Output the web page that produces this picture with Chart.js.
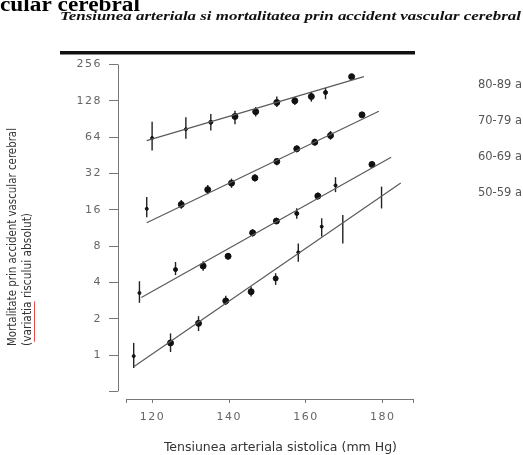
<!DOCTYPE html>
<html>
<head>
<meta charset="utf-8">
<script src="https://cdn.jsdelivr.net/npm/chart.js@4.4.1/dist/chart.umd.min.js"></script>
<style>
    body { margin: 0; background: #fff; }
    canvas { display: block; }
</style>
</head>
<body>
<canvas id="chart" width="523" height="455"></canvas>
<script>
const ageGroups = ["80-89 a", "70-79 a", "60-69 a", "50-59 a"];

// systolic pressure (x), mortality (y) and error bar ends, per age group
const sbp80 = [119.9, 128.7, 135.2, 141.5, 146.9, 152.4, 157.1, 161.4, 165.1, 171.9];
const mort80 = [63, 74.5, 85, 95, 104, 124, 128, 139, 150, 203];
const low80 = [49.6, 62, 72.5, 82, 95, 114, 118, 126, 132, 195];
const high80 = [86, 93.5, 99.7, 106, 114, 139, 138, 152, 164, 212];

const sbp70 = [118.5, 127.5, 134.4, 140.6, 146.7, 152.4, 157.6, 162.3, 166.4, 174.6];
const mort70 = [16.3, 17.7, 23.5, 26.6, 29.4, 40.2, 51.2, 58.1, 66, 97.9];
const low70 = [13.9, 16.3, 21.5, 24.3, 27.5, 37.5, 48, 54.5, 61, 93];
const high70 = [20.4, 19.3, 25.7, 29, 31.5, 43, 54.5, 62, 72, 103];

const sbp60 = [116.6, 126.0, 133.2, 139.7, 146.1, 152.3, 157.6, 163.1, 167.7, 177.2];
const mort60 = [3.27, 5.11, 5.47, 6.59, 10.3, 12.9, 14.9, 20.8, 25.5, 38];
const low60 = [2.71, 4.6, 5.0, 6.2, 9.6, 12.2, 13.5, 19.5, 22.4, 36];
const high60 = [4.09, 5.9, 6.0, 7.0, 11, 13.7, 16.5, 22.2, 29.8, 40];

const sbp50 = [115.1, 124.7, 132.0, 139.1, 145.7, 152.1, 158.0, 164.1, 169.6, 179.7];
const mort50 = [0.98, 1.26, 1.83, 2.81, 3.35, 4.31, 7.1, 11.6, 11.1, 20.1];
const low50 = [0.78, 1.06, 1.58, 2.6, 3.05, 3.81, 5.94, 9.6, 8.4, 16.4];
const high50 = [1.26, 1.51, 2.1, 3.1, 3.7, 4.76, 8.4, 13.6, 14.5, 24.9];

// fitted lines: two end points each
const fitX80 = [118.5, 175.1], fitY80 = [59.8, 203];
const fitX70 = [118.5, 179.0], fitY70 = [12.5, 105];
const fitX60 = [117.1, 182.2], fitY60 = [3.0, 43.6];
const fitX50 = [115.1, 184.7], fitY50 = [0.80, 26.7];

const markerSize80 = [1.5, 1.5, 2, 3, 3, 3, 3, 3, 2, 3];
const markerSize70 = [1.5, 3, 3, 3, 3, 3, 3, 3, 3, 3];
const markerSize60 = [1.5, 2, 3, 3, 3, 3, 2, 3, 1.5, 3];
const markerSize50 = [1.5, 3, 3, 3, 3, 2.5, 1.5, 1.5, 0, 0];

const yTickValues = [0.5, 1, 2, 4, 8, 16, 32, 64, 128, 256];
const yTickLabels = ["", "1", "2", "4", "8", "16", "32", "64", "128", "256"];
const xTickValues = [113.3, 120, 140, 160, 180, 188];
const xTickLabels = ["", "120", "140", "160", "180", ""];

const heading = "cular cerebral";
const subtitle = "Tensiunea arteriala si mortalitatea prin accident vascular cerebral";
const yTitle1 = "Mortalitate prin accident vascular cerebral";
const yTitle2 = "(variatia riscului absolut)";
const xTitle = "Tensiunea arteriala sistolica (mm Hg)";

function points(xs, ys) {
    return xs.map((x, i) => ({ x: x, y: ys[i] }));
}

const groups = [
    [sbp80, mort80, low80, high80, fitX80, fitY80, markerSize80],
    [sbp70, mort70, low70, high70, fitX70, fitY70, markerSize70],
    [sbp60, mort60, low60, high60, fitX60, fitY60, markerSize60],
    [sbp50, mort50, low50, high50, fitX50, fitY50, markerSize50]
];

const datasets = [];
groups.forEach((g, i) => {
    datasets.push({
        label: ageGroups[i] + " fit",
        data: points(g[4], g[5]),
        showLine: true,
        borderColor: "#5a5a5a",
        borderWidth: 1.2,
        pointRadius: 0
    });
    datasets.push({
        label: ageGroups[i],
        data: points(g[0], g[1]),
        errLow: g[2],
        errHigh: g[3],
        showLine: false,
        pointRadius: g[6],
        pointBackgroundColor: "#111",
        pointBorderColor: "#111",
        pointBorderWidth: 1
    });
});

function fitText(ctx, text, x, y, width, font, color) {
    ctx.font = font;
    ctx.fillStyle = color;
    const w = ctx.measureText(text).width;
    ctx.save();
    ctx.translate(x, y);
    ctx.scale(width / w, 1);
    ctx.fillText(text, 0, 0);
    ctx.restore();
}

const errorBars = {
    id: "errorBars",
    beforeDatasetsDraw(chart) {
        const ctx = chart.ctx, xs = chart.scales.x, ys = chart.scales.y;
        ctx.save();
        ctx.strokeStyle = "#222";
        ctx.lineWidth = 1.4;
        chart.data.datasets.forEach(ds => {
            if (!ds.errLow) return;
            ds.data.forEach((p, i) => {
                const px = xs.getPixelForValue(p.x);
                ctx.beginPath();
                ctx.moveTo(px, ys.getPixelForValue(ds.errLow[i]));
                ctx.lineTo(px, ys.getPixelForValue(ds.errHigh[i]));
                ctx.stroke();
            });
        });
        ctx.restore();
    }
};

const decorations = {
    id: "decorations",
    beforeDraw(chart) {
        chart.ctx.letterSpacing = "1.5px";
    },
    afterDraw(chart) {
        const ctx = chart.ctx, xs = chart.scales.x, ys = chart.scales.y, area = chart.chartArea;
        ctx.save();
        ctx.letterSpacing = "0px";

        // detached axis lines
        ctx.strokeStyle = "#777";
        ctx.lineWidth = 1;
        ctx.beginPath();
        ctx.moveTo(area.left + 0.5, ys.getPixelForValue(yTickValues[0]));
        ctx.lineTo(area.left + 0.5, ys.getPixelForValue(yTickValues[yTickValues.length - 1]));
        ctx.moveTo(xs.getPixelForValue(xTickValues[0]), area.bottom + 0.5);
        ctx.lineTo(xs.getPixelForValue(xTickValues[xTickValues.length - 1]), area.bottom + 0.5);
        ctx.stroke();

        // heading and rule
        ctx.textBaseline = "alphabetic";
        ctx.textAlign = "left";
        fitText(ctx, heading, 0, 11, 140, "bold 20px 'Liberation Serif'", "#000");
        fitText(ctx, subtitle, 60, 20, 461, "italic bold 12px 'Liberation Serif'", "#111");
        ctx.fillStyle = "#111";
        ctx.fillRect(60, 51, 355, 3.5);

        // age group labels
        ctx.textBaseline = "middle";
        [85, 121, 157, 193].forEach((y, i) => {
            fitText(ctx, ageGroups[i], 478, y, 44, "12px 'Liberation Sans Narrow', 'DejaVu Sans Condensed'", "#555");
        });

        // axis titles
        fitText(ctx, xTitle, 164, 448, 233, "12px 'Liberation Sans Narrow', 'DejaVu Sans Condensed'", "#333");

        ctx.save();
        ctx.translate(13, 346);
        ctx.rotate(-Math.PI / 2);
        fitText(ctx, yTitle1, 0, 0, 218, "12px 'Liberation Sans Narrow', 'DejaVu Sans Condensed'", "#333");
        ctx.restore();

        ctx.save();
        ctx.translate(28, 346);
        ctx.rotate(-Math.PI / 2);
        ctx.font = "12px 'Liberation Sans Narrow', 'DejaVu Sans Condensed'";
        const full = ctx.measureText(yTitle2).width;
        const k = 133 / full;
        const u0 = ctx.measureText("(").width * k;
        const u1 = ctx.measureText("(variatia").width * k;
        fitText(ctx, yTitle2, 0, 0, 133, ctx.font, "#333");
        ctx.strokeStyle = "#e05050";
        ctx.lineWidth = 1;
        ctx.beginPath();
        ctx.moveTo(u0, 6.5);
        ctx.lineTo(u1, 6.5);
        ctx.stroke();
        ctx.restore();

        ctx.restore();
    }
};

const tickFont = { family: "'DejaVu Sans', sans-serif", size: 11 };

new Chart(document.getElementById("chart").getContext("2d"), {
    type: "scatter",
    data: { datasets: datasets },
    options: {
        responsive: false,
        animation: false,
        layout: { padding: { top: 60, right: 107, left: 0, bottom: 0 } },
        plugins: { legend: { display: false }, tooltip: { enabled: false } },
        scales: {
            x: {
                type: "linear",
                min: 111.01,
                max: 188.68,
                afterBuildTicks: s => { s.ticks = xTickValues.map(v => ({ value: v })); },
                afterFit: s => { s.height = 56; },
                grid: { drawOnChartArea: false, tickLength: 4, color: "#777" },
                border: { display: false },
                ticks: {
                    autoSkip: false, maxRotation: 0, padding: 8,
                    font: tickFont, color: "#666",
                    callback: (v, i) => xTickLabels[i]
                }
            },
            y: {
                type: "logarithmic",
                min: 0.432,
                max: 279,
                afterBuildTicks: s => { s.ticks = yTickValues.map(v => ({ value: v })); },
                afterFit: s => { s.width = 118; },
                grid: { drawOnChartArea: false, tickLength: 9, color: "#777" },
                border: { display: false },
                ticks: {
                    autoSkip: false, padding: 7,
                    font: tickFont, color: "#666",
                    callback: (v, i) => yTickLabels[i]
                }
            }
        }
    },
    plugins: [errorBars, decorations]
});
</script>
</body>
</html>
